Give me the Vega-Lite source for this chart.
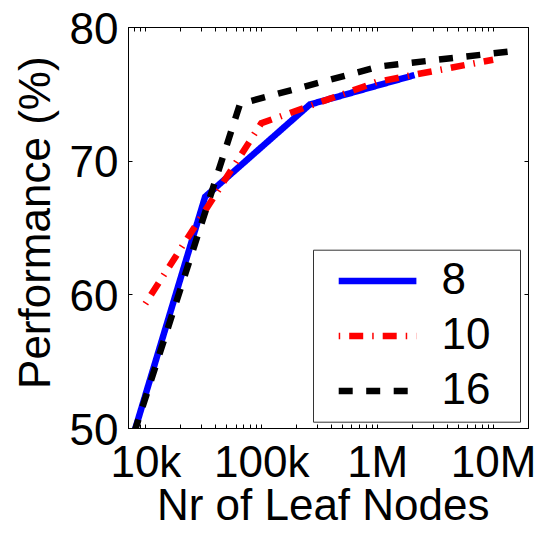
{
  "$schema": "https://vega.github.io/schema/vega-lite/v6.json",
  "width": 400,
  "height": 401,
  "autosize": "none",
  "padding": {"left": 128, "top": 27, "right": 21, "bottom": 106},
  "background": "white",
  "config": {"view": {"stroke": "black", "strokeWidth": 1}, "font": "Liberation Sans"},
  "data": {
    "values": [
      {"branching": "8", "leaves": 4096, "performance": 41.3},
      {"branching": "8", "leaves": 32768, "performance": 67.3},
      {"branching": "8", "leaves": 262144, "performance": 74.2},
      {"branching": "8", "leaves": 2097152, "performance": 76.4},
      {"branching": "10", "leaves": 10000, "performance": 59.3},
      {"branching": "10", "leaves": 100000, "performance": 72.8},
      {"branching": "10", "leaves": 1000000, "performance": 75.9},
      {"branching": "10", "leaves": 10000000, "performance": 77.55},
      {"branching": "16", "leaves": 4096, "performance": 41.8},
      {"branching": "16", "leaves": 65536, "performance": 74.25},
      {"branching": "16", "leaves": 1048576, "performance": 77.05},
      {"branching": "16", "leaves": 16777216, "performance": 78.25}
    ]
  },
  "layer": [
    {
      "mark": {"type": "line", "clip": true, "strokeWidth": 6.5, "strokeCap": "butt"},
      "encoding": {
        "x": {
          "field": "leaves",
          "type": "quantitative",
          "scale": {"type": "log", "domain": [7080, 20000000], "nice": false},
          "axis": {
            "orient": "bottom",
            "values": [8000, 9000, 10000, 20000, 30000, 40000, 50000, 60000, 70000, 80000, 90000, 100000, 200000, 300000, 400000, 500000, 600000, 700000, 800000, 900000, 1000000, 2000000, 3000000, 4000000, 5000000, 6000000, 7000000, 8000000, 9000000, 10000000],
            "labelExpr": "datum.value == 10000 ? '10k' : datum.value == 100000 ? '100k' : datum.value == 1000000 ? '1M' : datum.value == 10000000 ? '10M' : ''",
            "tickSize": -4,
            "tickColor": "black",
            "domainColor": "black",
            "grid": false,
            "labelFontSize": 44,
            "labelColor": "black",
            "labelPadding": 17.6,
            "labelFlush": false,
            "labelOverlap": false,
            "labelBound": false,
            "title": "Nr of Leaf Nodes",
            "titleFontSize": 44,
            "titleFontWeight": "normal",
            "titleColor": "black",
            "titleX": 194.7,
            "titleY": 91.7,
            "titleAlign": "center",
            "titleBaseline": "alphabetic"
          }
        },
        "y": {
          "field": "performance",
          "type": "quantitative",
          "scale": {"domain": [50, 80], "nice": false, "zero": false},
          "axis": {
            "orient": "left",
            "values": [50, 60, 70, 80],
            "tickSize": -4,
            "tickColor": "black",
            "domainColor": "black",
            "grid": false,
            "labelFontSize": 44,
            "labelColor": "black",
            "labelPadding": 14,
            "labelOffset": 3,
            "labelFlush": false,
            "labelOverlap": false,
            "labelBound": false,
            "title": "Performance (%)",
            "titleFontSize": 44,
            "titleFontWeight": "normal",
            "titleColor": "black",
            "titleAngle": 270,
            "titleX": -78.3,
            "titleY": 195.2,
            "titleAlign": "center",
            "titleBaseline": "alphabetic"
          }
        },
        "color": {
          "field": "branching",
          "type": "nominal",
          "sort": ["8", "10", "16"],
          "scale": {"domain": ["8", "10", "16"], "range": ["#0000ff", "#ff0000", "#000000"]},
          "legend": {
            "title": ".",
            "titleOrient": "right",
            "titleOpacity": 0,
            "titleFontSize": 2,
            "titlePadding": 20,
            "orient": "none",
            "legendX": 185,
            "legendY": 222.7,
            "symbolType": "M-2,0H2",
            "symbolSize": 1509,
            "symbolStrokeWidth": 6.5,
            "labelFontSize": 44,
            "labelColor": "black",
            "labelOffset": 41,
            "padding": 8.3,
            "symbolOffset": 33.25,
            "rowPadding": 10,
            "strokeColor": "#333333",
            "fillColor": "white"
          }
        },
        "strokeDash": {
          "field": "branching",
          "type": "nominal",
          "sort": ["8", "10", "16"],
          "scale": {"domain": ["8", "10", "16"], "range": [[1, 0], [1.5, 9, 14, 9], [14, 13.5]]},
          "legend": {
            "title": ".",
            "titleOrient": "right",
            "titleOpacity": 0,
            "titleFontSize": 2,
            "titlePadding": 20,
            "orient": "none",
            "legendX": 185,
            "legendY": 222.7,
            "symbolType": "M-2,0H2",
            "symbolSize": 1509,
            "symbolStrokeWidth": 6.5,
            "labelFontSize": 44,
            "labelColor": "black",
            "labelOffset": 41,
            "padding": 8.3,
            "symbolOffset": 33.25,
            "rowPadding": 10,
            "strokeColor": "#333333",
            "fillColor": "white"
          }
        }
      }
    },
    {
      "mark": {"type": "point", "opacity": 0},
      "encoding": {
        "x": {
          "field": "leaves",
          "type": "quantitative",
          "axis": {
            "orient": "top",
            "values": [8000, 9000, 10000, 20000, 30000, 40000, 50000, 60000, 70000, 80000, 90000, 100000, 200000, 300000, 400000, 500000, 600000, 700000, 800000, 900000, 1000000, 2000000, 3000000, 4000000, 5000000, 6000000, 7000000, 8000000, 9000000, 10000000],
            "labels": false,
            "tickSize": -4,
            "tickColor": "black",
            "domainColor": "black",
            "grid": false,
            "title": null
          }
        },
        "y": {
          "field": "performance",
          "type": "quantitative",
          "axis": {
            "orient": "right",
            "values": [50, 60, 70, 80],
            "labels": false,
            "tickSize": -4,
            "tickColor": "black",
            "domainColor": "black",
            "grid": false,
            "title": null
          }
        }
      }
    }
  ],
  "resolve": {"axis": {"x": "independent", "y": "independent"}}
}
